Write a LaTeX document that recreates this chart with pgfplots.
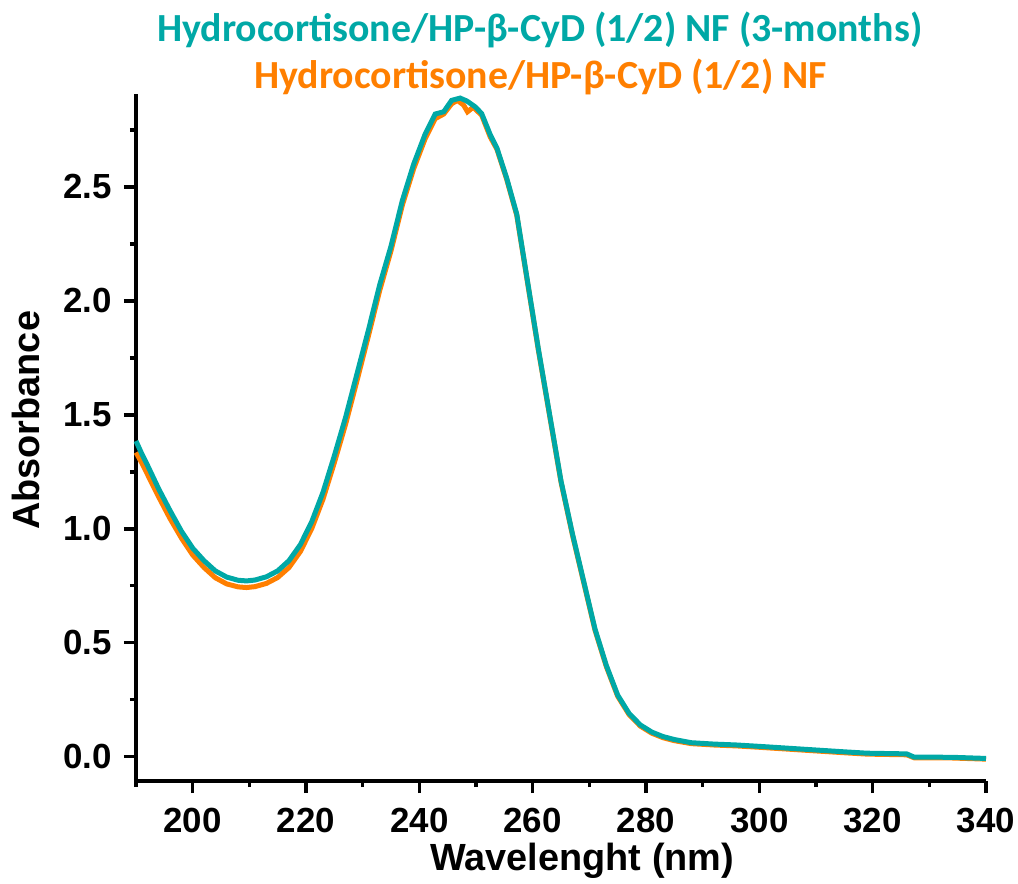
\documentclass[border=0pt]{standalone}
\usepackage{fontspec}
\setmainfont{Liberation Sans}
\newfontfamily\titlefont{Carlito}
\usepackage{pgfplots}
\pgfplotsset{compat=1.18}
\definecolor{tealc}{RGB}{0,168,166}
\definecolor{orangec}{RGB}{255,127,0}

\begin{document}
\begin{tikzpicture}
\begin{axis}[
  scale only axis, width=850bp, height=687bp,
  xmin=190, xmax=340, ymin=-0.107, ymax=2.908,
  axis x line*=bottom, axis y line*=left,
  axis line style={line width=3.5bp, -},
  xtick={200,220,...,340}, minor xtick={190,210,...,330},
  ytick={0,0.5,...,2.5}, minor ytick={0.25,0.75,...,2.75},
  tick align=outside, major tick length=12bp, minor tick length=6bp,
  every tick/.style={line width=3.5bp, black},
  /pgf/number format/assume math mode=true,
  ticklabel style={font=\fontsize{35}{35}\selectfont\bfseries},
  xticklabel style={yshift=-12bp},
  yticklabel style={xshift=-9bp, /pgf/number format/.cd, fixed, fixed zerofill, precision=1},
  xlabel={Wavelenght (nm)}, ylabel={Absorbance},
  label style={font=\fontsize{38}{38}\selectfont\bfseries},
  xlabel style={at={(ticklabel cs:0.525)}, anchor=near ticklabel, yshift=-3bp},
  ylabel style={at={(ticklabel cs:0.525)}, anchor=near ticklabel, yshift=16bp},
  clip=false,
]
\addplot[orangec, line width=5bp] coordinates {
(190,1.335) (191,1.29) (192,1.24) (194,1.14) (196,1.045) (198,0.96) (200,0.885)
(202,0.83) (204,0.785) (206,0.758) (208,0.745) (209.5,0.742) (211,0.746) (213,0.76)
(215,0.786) (217,0.83) (219,0.90) (221,1.00) (223,1.13) (225,1.29) (227,1.46)
(229,1.65) (231,1.845) (233,2.045) (235,2.22) (237,2.42) (239,2.58) (241,2.71)
(242.8,2.80) (244.3,2.82) (245.7,2.865) (246.7,2.88) (247.8,2.86) (248.5,2.83)
(249.5,2.85) (251,2.815) (252.5,2.72) (253.7,2.665) (255.4,2.535) (257.2,2.375)
(259,2.095) (261,1.785) (263,1.495) (265,1.205) (267,0.975) (269,0.765) (271,0.555)
(273,0.395) (275,0.265) (277,0.185) (279,0.134) (281,0.103) (283,0.083) (285,0.07)
(288,0.057) (292,0.051) (296,0.047) (300,0.041) (305,0.033) (310,0.025) (315,0.017)
(319,0.011) (326,0.008) (327.3,-0.005) (334,-0.006) (340,-0.011)
};
\addplot[tealc, line width=5bp] coordinates {
(190,1.385) (191,1.33) (192,1.28) (194,1.175) (196,1.08) (198,0.99) (200,0.915)
(202,0.86) (204,0.815) (206,0.788) (208,0.774) (209.5,0.771) (211,0.775) (213,0.789)
(215,0.815) (217,0.86) (219,0.93) (221,1.03) (223,1.16) (225,1.32) (227,1.49)
(229,1.68) (231,1.87) (233,2.07) (235,2.24) (237,2.44) (239,2.60) (241,2.73)
(242.8,2.82) (244.3,2.83) (245.7,2.88) (247.2,2.89) (248.4,2.877) (249.9,2.851)
(251,2.822) (252.5,2.73) (253.7,2.67) (255.4,2.54) (257.2,2.38) (259,2.10)
(261,1.79) (263,1.50) (265,1.21) (267,0.98) (269,0.77) (271,0.56) (273,0.40)
(275,0.27) (277,0.19) (279,0.139) (281,0.108) (283,0.088) (285,0.075) (288,0.061)
(292,0.055) (296,0.051) (300,0.045) (305,0.037) (310,0.029) (315,0.021) (319,0.015)
(326,0.012) (327.3,-0.002) (334,-0.003) (340,-0.008)
};
\node[anchor=base, text=tealc, font=\titlefont\bfseries\fontsize{40}{40}\selectfont]
  at (rel axis cs:0.475,1.0757) {Hydrocortisone/HP-β-CyD (1/2) NF (3-months)};
\node[anchor=base, text=orangec, font=\titlefont\bfseries\fontsize{40}{40}\selectfont]
  at (rel axis cs:0.476,1.0073) {Hydrocortisone/HP-β-CyD (1/2) NF};
\end{axis}
\pgfresetboundingbox
\path[use as bounding box] ([xshift=-136bp, yshift=-103bp]current axis.south west)
  rectangle ([xshift=32bp, yshift=94bp]current axis.north east);
\end{tikzpicture}
\end{document}
